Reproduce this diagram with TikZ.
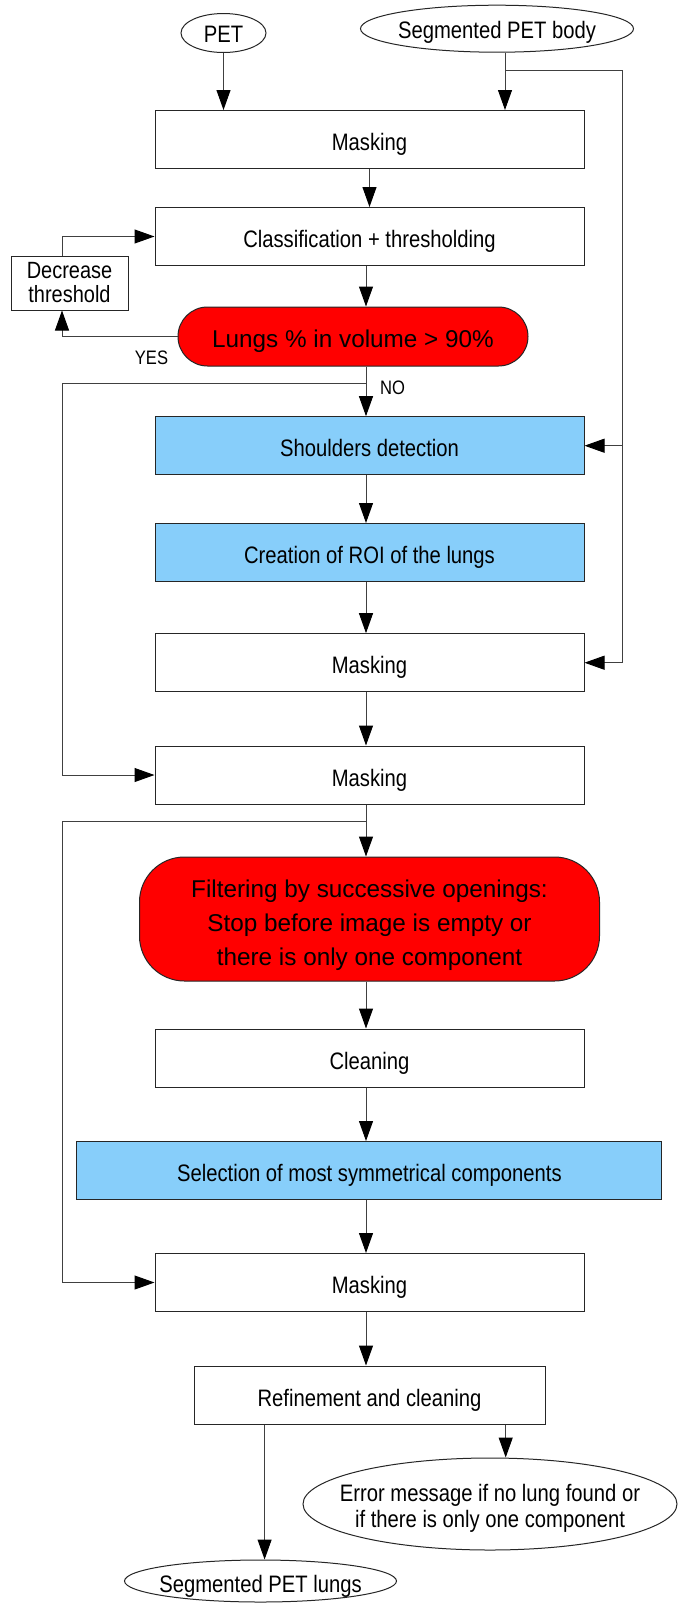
\documentclass[tikz,border=0pt]{standalone}
\usepackage{fontspec}
\setmainfont{Liberation Sans}[FakeStretch=0.85]
\newfontfamily\redfont{Liberation Sans}
\usetikzlibrary{arrows.meta,shapes.geometric,shapes.misc}
\definecolor{skyb}{RGB}{135,206,250}
\newcommand{\lowerby}[2]{\raisebox{-#1}[\height][\depth]{#2}}
\begin{document}
\begin{tikzpicture}[x=1pt,y=-1pt,
  txt/.style={font=\fontsize{23.8}{24}\selectfont},
  one/.style={text height=22pt,text depth=0pt},
  box/.style={txt,one,draw=black!85,line width=1pt,rectangle,inner sep=0pt,minimum width=429pt,minimum height=58pt},
  bluebox/.style={box,fill=skyb},
  redr/.style={one,draw=black!85,line width=1pt,fill=red,rounded rectangle,inner sep=0pt,font=\redfont\fontsize{24.3}{26}\selectfont},
  redbig/.style={draw=black!85,line width=1pt,fill=red,rectangle,rounded corners=45pt,inner sep=0pt,font=\redfont\fontsize{24.3}{34}\selectfont},
  oval/.style={txt,draw=black!85,line width=1pt,ellipse,inner sep=0pt},
  small/.style={font=\fontsize{19.5}{20}\selectfont,inner sep=0pt},
  ln/.style={draw=black!75,line width=1pt},
  arr/.style={ln,-{Triangle[length=20pt,width=14pt,color=black]}}]
\fill[white] (0,0) rectangle (680,1604);
\useasboundingbox (0,0) rectangle (680,1604);

% nodes
\node[oval,text height=19pt,text depth=0pt,minimum width=85pt,minimum height=39pt] (pet) at (223.5,33) {\makebox[0pt]{PET}};
\node[oval,text height=19pt,text depth=0pt,minimum width=273pt,minimum height=47pt] (segbody) at (497,28.7) {\makebox[0pt]{Segmented PET body}};
\node[box] (m1) at (369.5,139.5) {Masking};
\node[box] (cls) at (369.5,236.5) {Classification + thresholding};
\node[txt,draw=black!85,line width=1pt,inner sep=0pt,minimum width=117pt,minimum height=54pt,align=center,font=\fontsize{23.5}{24}\selectfont] (dec) at (69.5,283) {Decrease\\threshold};
\node[redr,minimum width=350pt,minimum height=59pt] (lungs) at (353,336.5) {Lungs \% in volume > 90\%};
\node[bluebox] (sh) at (369.5,445.7) {Shoulders detection};
\node[bluebox] (roi) at (369.5,552.5) {Creation of ROI of the lungs};
\node[box] (m2) at (369.5,662.7) {Masking};
\node[box] (m3) at (369.5,775) {Masking};
\node[redbig,minimum width=460pt,minimum height=124pt] (filt) at (369.5,919)
  {\lowerby{6pt}{\begin{tabular}{@{}c@{}}Filtering by successive openings:\\Stop before image is empty or\\there is only one component\end{tabular}}};
\node[box] (clean) at (369.5,1058) {Cleaning};
\node[bluebox,minimum width=585pt] (sel) at (369.4,1170.5) {Selection of most symmetrical components};
\node[box] (m4) at (369.5,1282.5) {Masking};
\node[box,minimum width=351pt] (ref) at (369.5,1395) {Refinement and cleaning};
\node[oval,minimum width=374pt,minimum height=92pt,font=\fontsize{23.8}{26.5}\selectfont] (err) at (490,1504)
  {\makebox[0pt]{\lowerby{5pt}{\begin{tabular}{@{}c@{}}Error message if no lung found or\\if there is only one component\end{tabular}}}};
\node[oval,text height=23pt,text depth=0pt,minimum width=272pt,minimum height=42pt] (seglungs) at (260.5,1581) {\makebox[0pt]{Segmented PET lungs}};

\node[small,anchor=center] (yes) at (151.5,358) {YES};
\node[small,anchor=west] (no) at (380,388) {NO};

% helper coordinates
\coordinate (sb) at (505,70);
\coordinate (rt) at (622.5,70);
\coordinate (c1) at (366,0);
\coordinate (c0) at (369.5,0);
\coordinate (lx) at (62,0);
\coordinate (b1) at (366,383);
\coordinate (l1) at (62,383);
\coordinate (b2) at (366,821.7);
\coordinate (l2) at (62,821.7);
\coordinate (xl) at (264.6,0);
\coordinate (xr) at (505.7,0);

% connectors
\draw[arr] (pet.south) -- (pet.south |- m1.north);
\draw[arr] (segbody.south -| sb) -- (m1.north -| sb);
\draw[ln] (sb) -- (rt) -- (rt |- m2.east);
\draw[arr] (rt |- sh.east) -- (sh.east);
\draw[arr] (rt |- m2.east) -- (m2.east);
\draw[arr] (m1.south -| c0) -- (cls.north -| c0);
\draw[arr] (cls.south -| c1) -- (lungs.north -| c1);
\draw[arr] (lungs.west) -- (lungs.west -| lx) -- (dec.south -| lx);
\draw[arr] (dec.north -| lx) -- (cls.west -| lx) -- (cls.west);
\draw[arr] (lungs.south -| c1) -- (sh.north -| c1);
\draw[arr] (b1) -- (l1) -- (l1 |- m3.west) -- (m3.west);
\draw[arr] (sh.south -| c1) -- (roi.north -| c1);
\draw[arr] (roi.south -| c1) -- (m2.north -| c1);
\draw[arr] (m2.south -| c1) -- (m3.north -| c1);
\draw[arr] (m3.south -| c1) -- (filt.north -| c1);
\draw[arr] (b2) -- (l2) -- (l2 |- m4.west) -- (m4.west);
\draw[arr] (filt.south -| c1) -- (clean.north -| c1);
\draw[arr] (clean.south -| c1) -- (sel.north -| c1);
\draw[arr] (sel.south -| c1) -- (m4.north -| c1);
\draw[arr] (m4.south -| c1) -- (ref.north -| c1);
\draw[arr] (ref.south -| xl) -- (seglungs.north -| xl);
\draw[arr] (ref.south -| xr) -- (err.north -| xr);
\end{tikzpicture}
\end{document}
